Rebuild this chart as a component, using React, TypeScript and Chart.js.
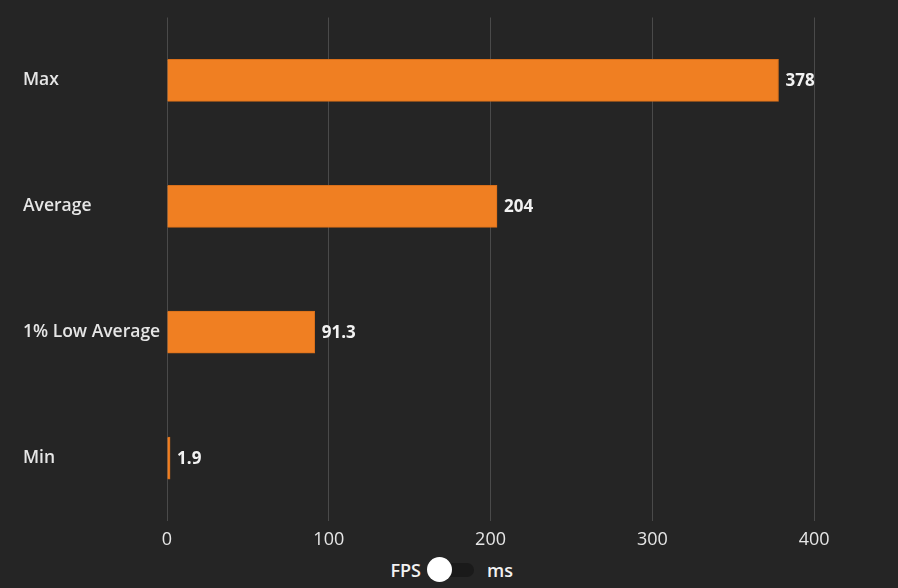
import React, { useEffect, useRef } from "react";
import { Chart, registerables } from "chart.js";

Chart.register(...registerables);

const categories = ["Max", "Average", "1% Low Average", "Min"];
const fpsValues = [378, 204, 91.3, 1.9];
const valueLabels = ["378", "204", "91.3", "1.9"];
const xTicks = [0, 100, 200, 300, 400];

const FONT = "'Open Sans', 'Noto Sans', sans-serif";

const valueLabelPlugin = {
  id: "valueLabels",
  afterDatasetsDraw(chart: any) {
    const ctx = chart.ctx;
    const meta = chart.getDatasetMeta(0);
    ctx.save();
    ctx.font = `bold 17px ${FONT}`;
    ctx.fillStyle = "#f2f2f2";
    ctx.textAlign = "left";
    ctx.textBaseline = "middle";
    meta.data.forEach((bar: any, i: number) => {
      ctx.fillText(valueLabels[i], bar.x + 7, bar.y + 1);
    });
    ctx.restore();
  },
};

export default function App() {
  const ref = useRef<HTMLCanvasElement>(null);
  useEffect(() => {
    document.body.style.margin = "0";
    document.body.style.background = "#252525";
    const chart = new Chart(ref.current!, {
      type: "bar",
      data: {
        labels: categories,
        datasets: [
          {
            data: fpsValues,
            backgroundColor: "#f07f22",
            borderColor: "#d86f1a",
            borderWidth: 1,
            barThickness: 42,
          },
        ],
      },
      options: {
        indexAxis: "y",
        animation: false,
        responsive: false,
        layout: { padding: { left: 23, top: 15, right: 3, bottom: 5 } },
        plugins: { legend: { display: false }, tooltip: { enabled: false } },
        scales: {
          x: {
            min: 0,
            max: 450,
            afterBuildTicks: (axis: any) => {
              axis.ticks = xTicks.map((v) => ({ value: v }));
            },
            afterFit: (axis: any) => {
              axis.height = 30;
            },
            grid: { color: "#4a4a4a", drawTicks: false },
            border: { display: false },
            ticks: {
              color: "#e6e6e6",
              padding: 8,
              font: { family: FONT, size: 18 },
            },
          },
          y: {
            afterFit: (axis: any) => {
              axis.width = 144;
            },
            grid: { display: false },
            border: { display: false },
            ticks: {
              color: "#e6e6e6",
              crossAlign: "far",
              padding: 7,
              font: { family: FONT, size: 17.5, weight: "600" },
            },
          },
        },
      },
      plugins: [valueLabelPlugin],
    });
    return () => chart.destroy();
  }, []);

  const textStyle: React.CSSProperties = {
    position: "absolute",
    top: 560,
    lineHeight: "20px",
    fontSize: 18,
    fontWeight: 600,
    color: "#f2f2f2",
  };

  return (
    <div style={{ position: "relative", width: 898, height: 588, background: "#252525", fontFamily: FONT }}>
      <canvas ref={ref} width={898} height={556} style={{ display: "block" }} />
      <div style={{ ...textStyle, left: 0, width: 421, textAlign: "right" }}>FPS</div>
      <div
        style={{
          position: "absolute",
          left: 430,
          top: 563,
          width: 44,
          height: 14,
          borderRadius: 7,
          background: "#1a1a1a",
        }}
      />
      <div
        style={{
          position: "absolute",
          left: 427,
          top: 557,
          width: 25,
          height: 25,
          borderRadius: 13,
          background: "#ffffff",
        }}
      />
      <div style={{ ...textStyle, left: 487 }}>ms</div>
    </div>
  );
}
